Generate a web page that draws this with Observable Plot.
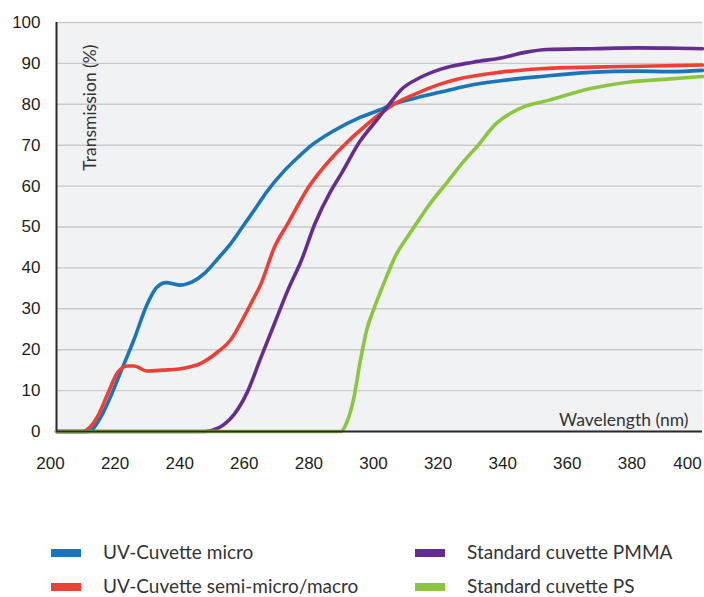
<!DOCTYPE html>
<html><head><meta charset="utf-8">
<script src="https://cdn.jsdelivr.net/npm/d3@7"></script>
<script src="https://cdn.jsdelivr.net/npm/@observablehq/plot@0.6"></script>
<style>
body{margin:0;background:#fff;}
#wrap{position:relative;width:704px;height:597px;overflow:hidden;}
.sw{position:absolute;width:30px;height:8px;}
.lt{position:absolute;font-family:Lato, "Noto Sans", sans-serif;font-size:19px;color:#333;line-height:20px;white-space:nowrap;}
</style></head><body>
<div id="wrap"><div id="chart"></div></div>
<script>
const seriesNames = ["UV-Cuvette micro","UV-Cuvette semi-micro/macro","Standard cuvette PMMA","Standard cuvette PS"];
const seriesColors = ["#1b75bb","#ee3f37","#652d90","#8cc63f"];
const xTicks = [200,220,240,260,280,300,320,340,360,380];
const xTickLast = [400];
const yTicks = [0,10,20,30,40,50,60,70,80,90,100];

const microWl = [200,210,213.7,217,220,224,228,231,234,238,242,246,250,254,258,262,265,270,275,279,286,294,300,304,311,319,327,338,350,365,380,390,400];
const microT  = [0,0,3.5,9,14.8,22.5,31,35.2,36.4,35.8,36.6,38.8,42.3,46,50.5,55,58.5,63.3,67.2,70,73.6,76.8,78.6,80,81.5,83,84.5,85.8,86.8,87.8,88.1,88,88.3];

const semiWl = [200,208,212.6,216,219,222,224,228,233,238,245,250,254,257,260,263.3,267.5,271.6,278,285,288,296,304,311,319,325,337,350,366,381,400];
const semiT  = [0,0,3.5,9.5,14.5,16,16,14.8,15,15.3,16.8,19.5,22.5,26.5,31,36.1,45.1,50.8,59.7,66.7,69.2,75,79.8,82.5,85,86.3,87.8,88.7,89.1,89.3,89.6];

const pmmaWl = [200,246,250,252,255,259,263,267.5,271.6,275.8,280,285,288,294,299,303,307,312,319,329,338,345,352,366,380,392,400];
const pmmaT  = [0,0,0.8,1.8,4.2,9.5,17.5,26.4,34.5,41.8,50.8,58.9,62.8,71,76,80,83.8,86.3,88.6,90.3,91.4,92.7,93.4,93.6,93.8,93.7,93.6];

const psWl = [200,288,290,292,294,296,298.5,302,305,309,312,315,321,326,330,336,341,345,352,365,377,388,400];
const psT  = [0,0,2.5,8,17,24.7,30.5,37.5,43,48,51.5,55,61,66,69.5,75.2,78,79.5,80.9,83.8,85.4,86.1,86.8];

const seriesWl = [microWl, semiWl, pmmaWl, psWl];
const seriesT = [microT, semiT, pmmaT, psT];
const rows = seriesNames.flatMap((name, i) => seriesWl[i].map((wl, j) => ({series: name, wl, t: seriesT[i][j]})));

const chart = Plot.plot({
  width: 704, height: 480,
  marginLeft: 56, marginRight: 2, marginTop: 22, marginBottom: 49,
  style: {fontFamily: "'Liberation Sans', Arial, sans-serif", fontSize: "17px", color: "#231f20", background: "#fff"},
  x: {domain: [200, 400]},
  y: {domain: [0, 100]},
  color: {domain: seriesNames, range: seriesColors},
  marks: [
    Plot.frame({fill: "#f1f2f4", stroke: null}),
    Plot.gridY(yTicks, {stroke: "#c8c9cc", strokeOpacity: 1, strokeWidth: 1.4}),
    Plot.axisX(xTicks, {tickSize: 0, tickPadding: 25, label: null, dx: -6}),
    Plot.axisX(xTickLast, {tickSize: 0, tickPadding: 25, label: null, dx: -15}),
    Plot.axisY(yTicks, {tickSize: 0, tickPadding: 16, label: null}),
    Plot.line(rows, {x: "wl", y: "t", z: "series", stroke: "series", strokeWidth: 3.6, curve: "monotone-x"}),
    Plot.ruleX([200], {stroke: "#2b2b2b", strokeWidth: 2}),
    Plot.ruleY([0], {stroke: "#2b2b2b", strokeWidth: 2}),
    Plot.text(["Transmission (%)"], {frameAnchor: "top-left", rotate: -90, textAnchor: "end", dx: 27, dy: 22, fontFamily: "Lato, sans-serif", fontSize: 17.5, fill: "#333"}),
    Plot.text(["Wavelength (nm)"], {frameAnchor: "bottom-right", textAnchor: "end", lineAnchor: "bottom", dx: -14, dy: -6, fontFamily: "Lato, sans-serif", fontSize: 17.5, fill: "#333"})
  ]
});
document.getElementById("chart").append(chart);

const wrap = document.getElementById("wrap");
const legPos = [[51, 553], [51, 587], [415, 553], [415, 587]];
seriesNames.forEach((name, i) => {
  const [lx, ly] = legPos[i];
  const sw = document.createElement("div");
  sw.className = "sw";
  sw.style.left = lx + "px"; sw.style.top = (ly - 4) + "px";
  sw.style.background = seriesColors[i];
  wrap.append(sw);
  const t = document.createElement("div");
  t.className = "lt";
  t.textContent = name;
  t.style.left = (lx + 52) + "px"; t.style.top = (ly - 11) + "px";
  wrap.append(t);
});
</script>
</body></html>
